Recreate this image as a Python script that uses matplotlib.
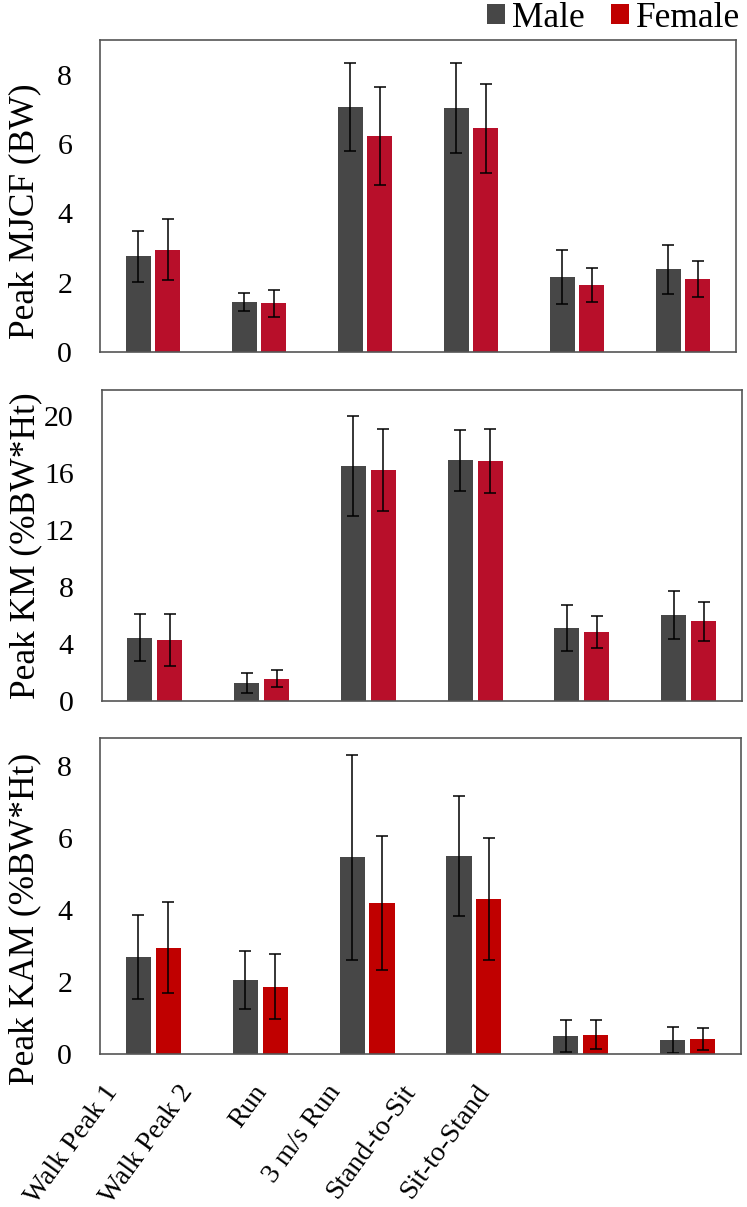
import numpy as np
import matplotlib
matplotlib.use("Agg")
import matplotlib.pyplot as plt
from matplotlib.transforms import ScaledTranslation

# categories shared by all three panels
tasks = ["Walk Peak 1", "Walk Peak 2", "Run", "3 m/s Run", "Stand-to-Sit", "Sit-to-Stand"]
groups = ["Male", "Female"]

# Peak MJCF (BW)
mjcf_male = [2.76, 1.44, 7.07, 7.04, 2.16, 2.38]
mjcf_male_sd = [0.74, 0.27, 1.27, 1.31, 0.78, 0.72]
mjcf_female = [2.95, 1.40, 6.22, 6.45, 1.93, 2.11]
mjcf_female_sd = [0.88, 0.40, 1.41, 1.29, 0.50, 0.51]

# Peak KM (%BW*Ht)
km_male = [4.43, 1.29, 16.49, 16.91, 5.13, 6.04]
km_male_sd = [1.65, 0.70, 3.50, 2.14, 1.60, 1.69]
km_female = [4.31, 1.57, 16.21, 16.84, 4.85, 5.60]
km_female_sd = [1.83, 0.59, 2.88, 2.24, 1.14, 1.36]

# Peak KAM (%BW*Ht)
kam_male = [2.71, 2.07, 5.47, 5.50, 0.51, 0.40]
kam_male_sd = [1.16, 0.80, 2.85, 1.67, 0.44, 0.37]
kam_female = [2.96, 1.88, 4.20, 4.31, 0.55, 0.43]
kam_female_sd = [1.26, 0.90, 1.87, 1.69, 0.40, 0.31]

plt.rcParams["font.family"] = ["Liberation Serif", "DejaVu Serif"]

W, H = 747, 1207
fig = plt.figure(figsize=(W / 100, H / 100), dpi=100)


def box(left, right, top, bottom):
    # pixel box -> figure fraction rect
    return [left / W, 1 - bottom / H, (right - left) / W, (bottom - top) / H]


panels = [
    dict(rect=box(100, 736, 40, 352), ylim=9.0, ticks=[0, 2, 4, 6, 8],
         label="Peak MJCF (BW)", label_y=0.452,
         male=mjcf_male, msd=mjcf_male_sd, female=mjcf_female, fsd=mjcf_female_sd,
         fcolor="#B80F2A"),
    dict(rect=box(101.5, 742, 390, 701), ylim=21.85, ticks=[0, 4, 8, 12, 16, 20],
         label="Peak KM (%BW*Ht)", label_y=0.5,
         male=km_male, msd=km_male_sd, female=km_female, fsd=km_female_sd,
         fcolor="#B80F2A"),
    dict(rect=box(100, 741, 737.5, 1054.3), ylim=8.8, ticks=[0, 2, 4, 6, 8],
         label="Peak KAM (%BW*Ht)", label_y=0.427,
         male=kam_male, msd=kam_male_sd, female=kam_female, fsd=kam_female_sd,
         fcolor="#C00000"),
]

x = np.arange(len(tasks))
width = 0.235
off = 0.14
male_color = "#474747"
err_kw = dict(ecolor="black", elinewidth=1.1, capsize=4.5, capthick=1.1)

axes = []
for p in panels:
    ax = fig.add_axes(p["rect"])
    bm = ax.bar(x - off, p["male"], width, yerr=p["msd"], color=male_color,
                error_kw=err_kw, label=groups[0])
    bf = ax.bar(x + off, p["female"], width, yerr=p["fsd"], color=p["fcolor"],
                error_kw=err_kw, label=groups[1])
    ax.set_xlim(-0.5, len(tasks) - 0.5)
    ax.set_ylim(0, p["ylim"])
    ax.set_yticks(p["ticks"])
    ax.set_xticks([])
    ax.tick_params(axis="y", length=0, pad=20, labelsize=21.5)
    for s in ax.spines.values():
        s.set_color("#555555")
        s.set_linewidth(1.2)
    ax.set_ylabel(p["label"], fontsize=25.5, va="center")
    ax.yaxis.set_label_coords(-0.118, p["label_y"])
    axes.append(ax)

# legend at the top right
fig.legend([bm, bf], groups, loc="upper right", bbox_to_anchor=(742 / W, 1.0),
           ncol=2, frameon=False, fontsize=25.5, handlelength=0.5,
           handleheight=0.5, handletextpad=0.2, columnspacing=0.75,
           borderpad=0.05, borderaxespad=0.0)

# rotated task names under the bottom panel, drawn compressed to the left
ax3 = axes[-1]
for i, name in enumerate(tasks):
    dx = (-50 - 32.5 * i) / 100
    tr = ax3.get_xaxis_transform() + ScaledTranslation(dx, -0.26, fig.dpi_scale_trans)
    ax3.text(i, 0, name, transform=tr, rotation=54, ha="right", va="top",
             rotation_mode="anchor", fontsize=20)

fig.savefig("out.png", dpi=100)
